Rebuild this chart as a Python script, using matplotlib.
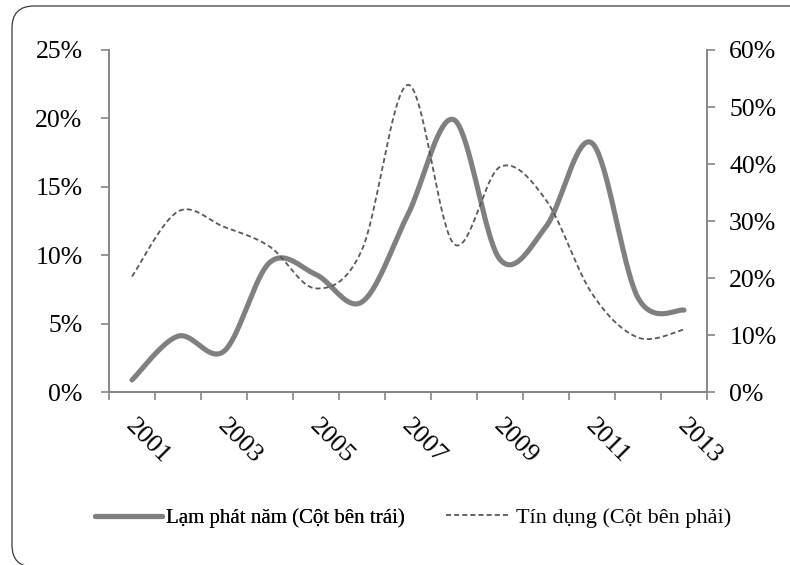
import numpy as np
import matplotlib
matplotlib.use("Agg")
import matplotlib.pyplot as plt
from matplotlib.patches import FancyBboxPatch
from matplotlib.lines import Line2D

years = [2001, 2002, 2003, 2004, 2005, 2006, 2007, 2008, 2009, 2010, 2011, 2012, 2013]
inflation = [0.9, 4.1, 3.0, 9.5, 8.6, 6.6, 13.0, 19.9, 9.7, 12.1, 18.2, 6.9, 6.0]   # % left axis
credit = [20.3, 31.7, 29.0, 25.5, 18.2, 25.0, 53.9, 26.0, 39.5, 33.7, 17.3, 9.6, 11.0]  # % right axis
left_ticks = [0, 5, 10, 15, 20, 25]
right_ticks = [0, 10, 20, 30, 40, 50, 60]
label_inflation = "Lạm phát năm (Cột bên trái)"
label_credit = "Tín dụng (Cột bên phải)"

FONT = "Liberation Serif"
AXC = "#868686"
W, H = 790, 565
DASH = (0, (2.8, 1.7))


def smooth(xv, yv, n=40):
    """Catmull-Rom style smoothing (like Excel's smoothed line)."""
    xv = np.asarray(xv, float)
    yv = np.asarray(yv, float)
    xs, ys = [], []
    m = len(xv)
    for i in range(m - 1):
        p0 = np.array([xv[max(i - 1, 0)], yv[max(i - 1, 0)]])
        p1 = np.array([xv[i], yv[i]])
        p2 = np.array([xv[i + 1], yv[i + 1]])
        p3 = np.array([xv[min(i + 2, m - 1)], yv[min(i + 2, m - 1)]])
        c1 = p1 + (p2 - p0) / 6.0
        c2 = p2 - (p3 - p1) / 6.0
        t = np.linspace(0, 1, n)[:, None]
        pts = ((1 - t) ** 3) * p1 + 3 * ((1 - t) ** 2) * t * c1 + 3 * (1 - t) * t ** 2 * c2 + t ** 3 * p2
        if i > 0:
            pts = pts[1:]
        xs.extend(pts[:, 0])
        ys.extend(pts[:, 1])
    return np.array(xs), np.array(ys)


fig = plt.figure(figsize=(W / 100, H / 100), dpi=100)
fig.patch.set_facecolor("white")

# rounded outer frame (pixel coordinates, origin bottom-left)
frame = FancyBboxPatch((12, -2), 800, H - 6 + 2,
                       boxstyle="round,pad=0,rounding_size=22",
                       transform=None, facecolor="none",
                       edgecolor="#3a3a3a", linewidth=0.9, zorder=0)
fig.patches.append(frame)

ax = fig.add_axes([109 / W, 1 - 392.3 / H, (707 - 109) / W, (392.3 - 50) / H])
ax2 = ax.twinx()
idx = np.arange(len(years))

sx, sy = smooth(idx, inflation)
ax.plot(sx, sy, color="#808080", lw=3.7, solid_capstyle="round", zorder=3)
cx, cy = smooth(idx, credit)
ax2.plot(cx, cy, color="#595959", lw=1.3, linestyle=DASH, zorder=2)

ax.set_xlim(-0.5, len(years) - 0.5)
ax.set_ylim(0, 25)
ax2.set_ylim(0, 60)
ax.set_yticks(left_ticks)
ax.set_yticklabels([f"{v}%" for v in left_ticks], fontsize=18.5, family=FONT)
ax2.set_yticks(right_ticks)
ax2.set_yticklabels([f"{v}%" for v in right_ticks], fontsize=18.5, family=FONT)

ax.set_xticks(np.arange(-0.5, len(years), 1.0))
ax.set_xticklabels([])
for i, y in enumerate(years):
    if i % 2 == 0:
        ax.text(i - 0.07, -2.25, str(y), rotation=-45, rotation_mode="anchor",
                ha="left", va="center", fontsize=19, family=FONT)

for a in (ax, ax2):
    a.spines["top"].set_visible(False)
    for s in ("left", "right", "bottom"):
        a.spines[s].set_color(AXC)
        a.spines[s].set_linewidth(1.4)
    a.tick_params(colors=AXC, labelcolor="black", width=1.2, length=6)
ax.tick_params(axis="y", pad=13)
ax2.tick_params(axis="y", pad=10)
ax2.spines["left"].set_visible(False)
ax.spines["right"].set_visible(False)

h1 = Line2D([], [], color="#808080", lw=3.7, solid_capstyle="round")
h2 = Line2D([], [], color="#595959", lw=1.3, linestyle=DASH)
ly = 1 - 518 / H
leg1 = fig.legend([h1], [label_inflation], loc="center left",
                  bbox_to_anchor=(95 / W, ly), frameon=False, borderpad=0,
                  borderaxespad=0, prop={"family": FONT, "size": 15},
                  handlelength=3.2, handletextpad=0.2)
leg2 = fig.legend([h2], [label_credit], loc="center left",
                  bbox_to_anchor=(446 / W, ly), frameon=False, borderpad=0,
                  borderaxespad=0, prop={"family": FONT, "size": 16},
                  handlelength=2.9, handletextpad=0.25)
fig.add_artist(leg1)

fig.savefig("out.png", dpi=100)
